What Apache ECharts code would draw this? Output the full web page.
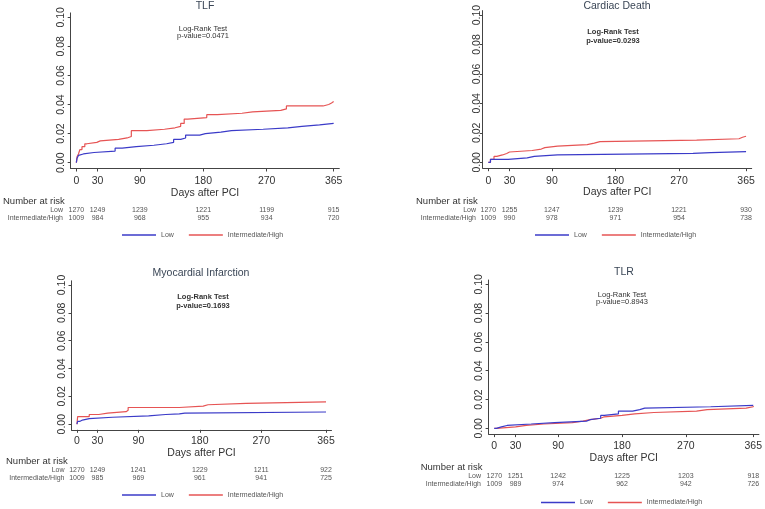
<!DOCTYPE html>
<html><head><meta charset="utf-8">
<script src="https://cdn.jsdelivr.net/npm/echarts@6/dist/echarts.min.js"></script>
<style>html,body{margin:0;padding:0;background:#fff}#c{width:765px;height:509px}</style>
</head><body><div id="c"></div>
<script>
// ---------- DATA ----------
const xTicks = [0, 30, 90, 180, 270, 365];
const yTicks = [0, 0.02, 0.04, 0.06, 0.08, 0.10];
const titles = ['TLF', 'Cardiac Death', 'Myocardial Infarction', 'TLR'];
const pValues = ['p-value=0.0471', 'p-value=0.0293', 'p-value=0.1693', 'p-value=0.8943'];
const seriesNames = ['Low', 'Intermediate/High'];

const tlfLow = [[0,0],[1,0.003],[3,0.005],[5,0.006],[10,0.007],[25,0.008],[55,0.010],[65,0.011],[85,0.012],[110,0.013],[128,0.014],[138,0.016],[148,0.017],[155,0.019],[175,0.020],[183,0.021],[205,0.022],[220,0.023],[265,0.024],[300,0.025],[320,0.026],[345,0.027],[365,0.027]];
const tlfIH = [[0,0],[1,0.004],[3,0.006],[5,0.009],[8,0.011],[12,0.013],[15,0.014],[29,0.015],[34,0.016],[60,0.017],[72,0.018],[78,0.022],[100,0.023],[125,0.024],[140,0.025],[148,0.027],[153,0.030],[158,0.031],[185,0.033],[200,0.034],[235,0.035],[250,0.036],[290,0.037],[298,0.039],[350,0.040],[358,0.041],[362,0.042],[365,0.042]];

const cdLow = [[0,0],[3,0.002],[28,0.003],[55,0.004],[65,0.005],[98,0.006],[290,0.0066],[315,0.0073],[365,0.0073]];
const cdIH = [[0,0],[3,0.002],[8,0.004],[12,0.005],[20,0.006],[26,0.007],[30,0.008],[62,0.009],[75,0.010],[80,0.011],[98,0.012],[140,0.013],[150,0.014],[158,0.015],[295,0.016],[355,0.017],[360,0.0177],[365,0.0177]];

const miLow = [[0,0],[1,0.002],[4,0.003],[8,0.004],[18,0.005],[52,0.006],[105,0.007],[130,0.0075],[150,0.008],[158,0.0088],[365,0.0088]];
const miIH = [[0,0],[1,0.0055],[18,0.007],[32,0.008],[45,0.009],[72,0.010],[75,0.012],[150,0.013],[185,0.014],[192,0.015],[248,0.016],[365,0.016]];

const tlrLow = [[0,0],[3,0.001],[10,0.002],[18,0.003],[52,0.004],[85,0.005],[130,0.006],[135,0.007],[150,0.009],[155,0.010],[175,0.012],[195,0.013],[205,0.014],[212,0.015],[305,0.016],[365,0.016]];
const tlrIH = [[0,0],[3,0.001],[30,0.002],[45,0.003],[70,0.004],[110,0.005],[125,0.006],[135,0.007],[150,0.008],[155,0.009],[180,0.010],[198,0.011],[225,0.012],[285,0.013],[300,0.014],[355,0.015],[365,0.0155]];

const riskLow = [
  [1270, 1249, 1239, 1221, 1199, 915],
  [1270, 1255, 1247, 1239, 1221, 930],
  [1270, 1249, 1241, 1229, 1211, 922],
  [1270, 1251, 1242, 1225, 1203, 918]
];
const riskIH = [
  [1009, 984, 968, 955, 934, 720],
  [1009, 990, 978, 971, 954, 738],
  [1009, 985, 969, 961, 941, 725],
  [1009, 989, 974, 962, 942, 726]
];
const curves = [[tlfLow, tlfIH], [cdLow, cdIH], [miLow, miIH], [tlrLow, tlrIH]];

// ---------- LAYOUT ----------
const FONT = 'Liberation Sans, Arial, sans-serif';
const COLORS = ['#3b3bc8', '#e65454'];
const layouts = [
  {grid:{left:70.7, top:12.9, width:268.6, height:155.6}, title:[205,6], test:[203,29,36], bold:false, yMargin:4,
   riskTitle:[3,201], rows:[210,218], riskRight:63, legend:[122,231.5], nameGap:12, labMargin:7},
  {grid:{left:482.7, top:10.6, width:269, height:157.6}, title:[617,6], test:[613,32,41], bold:true, yMargin:0,
   riskTitle:[416,201], rows:[210,218], riskRight:476, legend:[535,231.5], nameGap:14, labMargin:7},
  {grid:{left:71.5, top:280.8, width:260, height:149}, title:[201,272.7], test:[203,297.3,305.7], bold:true, yMargin:4,
   riskTitle:[6,461.7], rows:[470,477.7], riskRight:64.5, legend:[122,491.5], nameGap:11, labMargin:6},
  {grid:{left:488.6, top:280, width:270.4, height:154.1}, title:[624,271.7], test:[622,295,302.3], bold:false, yMargin:4,
   riskTitle:[420.7,467.3], rows:[475.7,484.3], riskRight:481, legend:[541,499], nameGap:13, labMargin:7}
];

const chart = echarts.init(document.getElementById('c'), null, {renderer:'canvas'});
const grids = [], xAxes = [], yAxes = [], series = [], legends = [];
const graphics = [];
layouts.forEach((L, i) => {
  grids.push(Object.assign({containLabel:false}, L.grid));
  xAxes.push({
    type:'value', gridIndex:i, min:-8, max:373,
    name:'Days after PCI', nameLocation:'middle', nameGap:L.nameGap,
    nameTextStyle:{fontFamily:FONT, fontSize:10.5, color:'#333'},
    axisLine:{show:true, onZero:false, lineStyle:{color:'#444', width:1}},
    axisTick:{show:true, length:3, customValues:xTicks, lineStyle:{color:'#444'}},
    axisLabel:{customValues:xTicks, margin:L.labMargin, fontFamily:FONT, fontSize:10.5, color:'#333'},
    splitLine:{show:false}
  });
  yAxes.push({
    type:'value', gridIndex:i, min:-0.004, max:0.103,
    axisLine:{show:true, onZero:false, lineStyle:{color:'#444', width:1}},
    axisTick:{show:true, length:3, customValues:yTicks, lineStyle:{color:'#444'}},
    axisLabel:{customValues:yTicks, rotate:90, margin:L.yMargin, fontFamily:FONT, fontSize:10.5, color:'#333',
      formatter: v => v.toFixed(2)},
    splitLine:{show:false}
  });
  curves[i].forEach((d, k) => {
    series.push({
      name:seriesNames[k], type:'line', xAxisIndex:i, yAxisIndex:i, data:d, step:'end',
      showSymbol:false, symbol:'none', animation:false, silent:true,
      lineStyle:{color:COLORS[k], width:1.2}, itemStyle:{color:COLORS[k]}, z:k===0?3:2
    });
  });
  legends.push({
    data:seriesNames, left:L.legend[0], top:L.legend[1], orient:'horizontal',
    icon:'rect', itemWidth:34, itemHeight:1.3, itemGap:15, selectedMode:false,
    textStyle:{fontFamily:FONT, fontSize:7, color:'#555'}, padding:0
  });
  graphics.push({type:'text', x:L.title[0], y:L.title[1], style:{text:titles[i], fontFamily:FONT, fontSize:10.5,
    fill:'#3a4656', textAlign:'center', textVerticalAlign:'middle'}});
  const fw = L.bold ? 'bold' : 'normal';
  graphics.push({type:'text', x:L.test[0], y:L.test[1], style:{text:'Log-Rank Test', fontFamily:FONT, fontSize:7.5,
    fontWeight:fw, fill:'#333', textAlign:'center', textVerticalAlign:'middle'}});
  graphics.push({type:'text', x:L.test[0], y:L.test[2], style:{text:pValues[i], fontFamily:FONT, fontSize:7.5,
    fontWeight:fw, fill:'#333', textAlign:'center', textVerticalAlign:'middle'}});
  graphics.push({type:'text', x:L.riskTitle[0], y:L.riskTitle[1], style:{text:'Number at risk', fontFamily:FONT, fontSize:9.5,
    fill:'#333', textAlign:'left', textVerticalAlign:'middle'}});
  graphics.push({type:'text', x:L.riskRight, y:L.rows[0], style:{text:'Low', fontFamily:FONT, fontSize:7,
    fill:'#555', textAlign:'right', textVerticalAlign:'middle'}});
  graphics.push({type:'text', x:L.riskRight, y:L.rows[1], style:{text:'Intermediate/High', fontFamily:FONT, fontSize:7,
    fill:'#555', textAlign:'right', textVerticalAlign:'middle'}});
});

chart.setOption({
  animation:false, backgroundColor:'#fff',
  grid:grids, xAxis:xAxes, yAxis:yAxes, series:series, legend:legends, graphic:graphics
});

// risk table numbers placed at the tick days through the axis scale
const riskTexts = [];
layouts.forEach((L, i) => {
  xTicks.forEach((day, j) => {
    const px = chart.convertToPixel({xAxisIndex:i}, day);
    riskTexts.push({type:'text', x:px, y:L.rows[0], style:{text:String(riskLow[i][j]), fontFamily:FONT, fontSize:7,
      fill:'#555', textAlign:'center', textVerticalAlign:'middle'}});
    riskTexts.push({type:'text', x:px, y:L.rows[1], style:{text:String(riskIH[i][j]), fontFamily:FONT, fontSize:7,
      fill:'#555', textAlign:'center', textVerticalAlign:'middle'}});
  });
});
chart.setOption({graphic:graphics.concat(riskTexts)}, {replaceMerge:['graphic']});
</script></body></html>
